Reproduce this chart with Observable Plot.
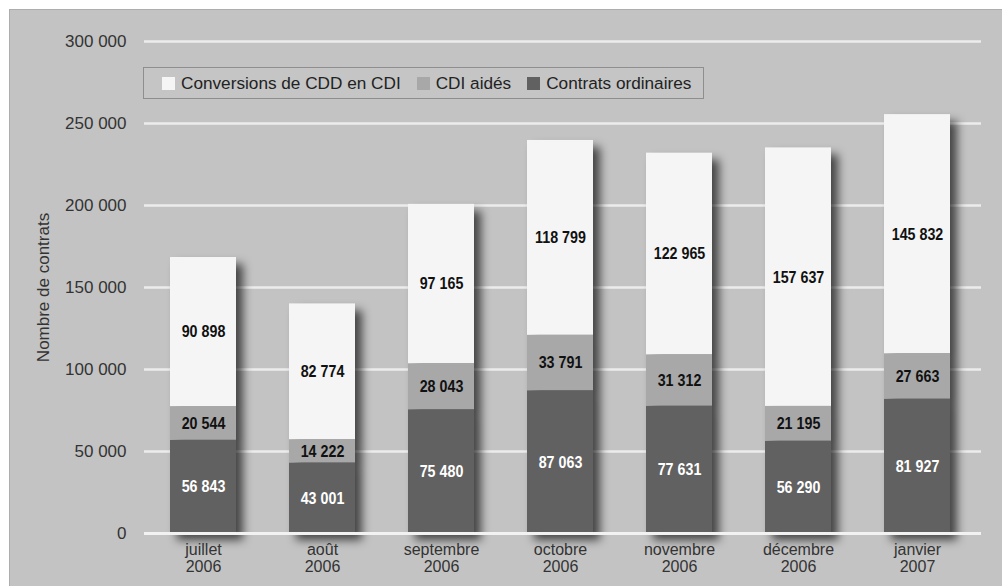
<!DOCTYPE html>
<html><head><meta charset="utf-8">
<script src="https://cdn.jsdelivr.net/npm/d3@7"></script>
<script src="https://cdn.jsdelivr.net/npm/@observablehq/plot@0.6"></script>
<style>
body{margin:0;background:#fff;width:1002px;height:586px;overflow:hidden;font-family:"Liberation Sans",Arial,sans-serif;}
#panel{position:absolute;left:9px;top:9px;width:993px;height:577px;background:#c3c3c3;box-shadow:inset 1px 1px 0 #adadad;}
#chart{position:absolute;left:0;top:0;}
#legend{position:absolute;left:134px;top:58px;height:32px;border:1px solid #8e8e8e;display:flex;align-items:center;padding:0 12px 0 18px;font-size:17.2px;color:#222;box-sizing:border-box;background:#c5c5c5;}
#legend .item{display:flex;align-items:center;margin-right:16px;}
#legend .item:last-child{margin-right:0;}
#legend .sw{width:13px;height:13px;margin-right:6px;display:inline-block;}
g[aria-label="bar"]{filter:drop-shadow(7px 7px 5px rgba(0,0,0,0.65));}
</style>
</head>
<body>
<div id="panel"><div id="chart"></div><div id="legend"></div></div>
<script>
const months = ["juillet\n2006","août\n2006","septembre\n2006","octobre\n2006","novembre\n2006","décembre\n2006","janvier\n2007"];
const ordinaires = [56843, 43001, 75480, 87063, 77631, 56290, 81927];
const aides = [20544, 14222, 28043, 33791, 31312, 21195, 27663];
const conversions = [90898, 82774, 97165, 118799, 122965, 157637, 145832];
const seriesNames = ["Contrats ordinaires", "CDI aidés", "Conversions de CDD en CDI"];
const seriesColors = ["#616161", "#a8a8a8", "#f5f5f5"];
const yTicks = [0, 50000, 100000, 150000, 200000, 250000, 300000];

const seriesValues = [ordinaires, aides, conversions];
const data = [];
seriesNames.forEach((s, i) => months.forEach((m, j) => data.push({month: m, series: s, value: seriesValues[i][j]})));

const fmt = d => d3.format(",")(d).replace(/,/g, " ");
const baseFont = '"Liberation Sans",Arial,sans-serif';

const chart = Plot.plot({
  width: 993, height: 577,
  marginTop: 32, marginBottom: 53, marginLeft: 135, marginRight: 25,
  style: {background: "transparent", fontFamily: baseFont, fontSize: "17px", color: "#333"},
  x: {domain: months, paddingInner: 0.445, paddingOuter: 0.2225, label: null},
  y: {domain: [0, 300000], label: null},
  color: {domain: seriesNames, range: seriesColors},
  marks: [
    Plot.ruleY(yTicks.filter(t => t > 0), {stroke: "#ececec", strokeWidth: 2.5, insetRight: -4}),
    Plot.barY(data, {x: "month", y: "value", fill: "series"}),
    Plot.ruleY([0], {stroke: "#f2f2f2", strokeWidth: 3, insetRight: -4}),
    Plot.text(data, Plot.stackY({x: "month", y: "value", text: d => d.series === seriesNames[0] ? fmt(d.value) : null, fill: "white", fontSize: 17, fontWeight: "bold", fontFamily: baseFont, className: "vlab"})),
    Plot.text(data, Plot.stackY({x: "month", y: "value", text: d => d.series !== seriesNames[0] ? fmt(d.value) : null, fill: "#111", fontSize: 17, fontWeight: "bold", fontFamily: baseFont, className: "vlab"})),
    Plot.axisX({tickSize: 0, tickPadding: 10, label: null, fontSize: 16, lineHeight: 1.05}),
    Plot.axisY({ticks: yTicks, tickSize: 0, tickPadding: 18, tickFormat: fmt, label: "Nombre de contrats", labelAnchor: "center", labelArrow: "none", labelOffset: 108, fontSize: 17})
  ]
});
chart.querySelectorAll("g.vlab text").forEach(t => {
  const tr = t.getAttribute("transform");
  if (tr) t.setAttribute("transform", tr + " scale(0.84,1)");
});
document.getElementById("chart").appendChild(chart);

const legend = document.getElementById("legend");
[2, 1, 0].forEach(i => {
  const item = document.createElement("span");
  item.className = "item";
  const sw = document.createElement("span");
  sw.className = "sw";
  sw.style.background = seriesColors[i];
  item.appendChild(sw);
  item.appendChild(document.createTextNode(seriesNames[i]));
  legend.appendChild(item);
});
</script>
</body></html>
